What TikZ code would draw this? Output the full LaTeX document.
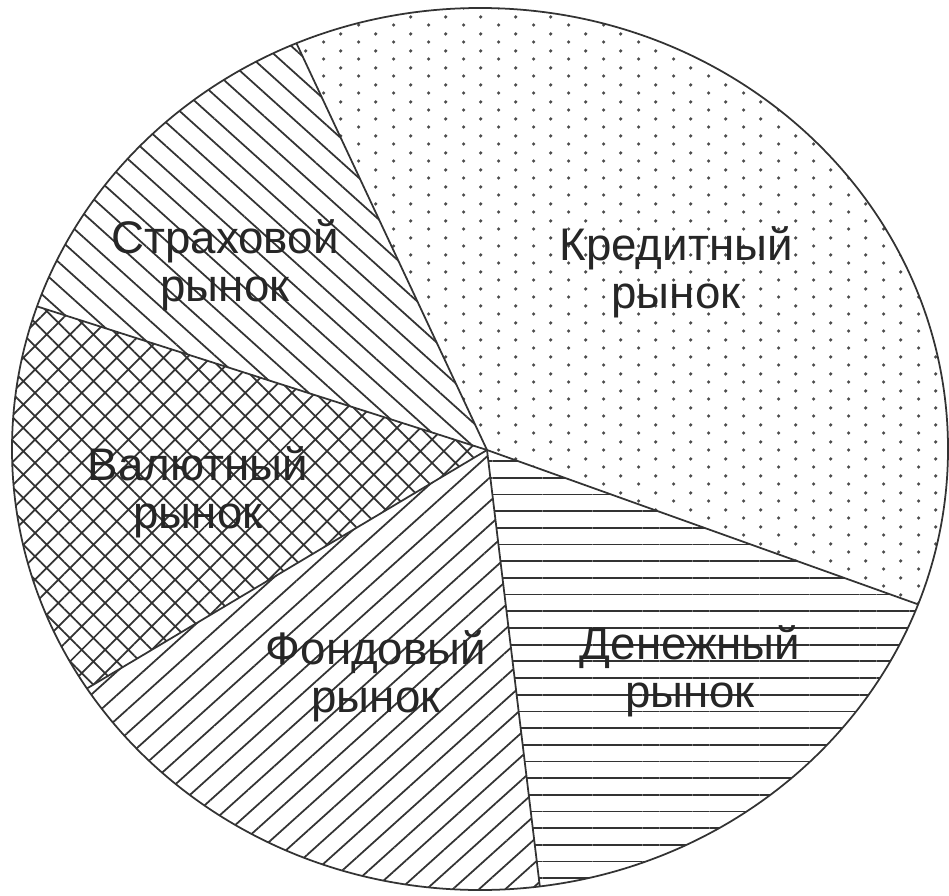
\documentclass[tikz,border=0pt]{standalone}
\usepackage{fontspec}
\setmainfont{Liberation Sans}
\usetikzlibrary{patterns.meta}

% staggered dot grid for the credit market sector
\pgfdeclarepatternformonly{sparse dots}{\pgfpointorigin}{\pgfqpoint{20pt}{9.4pt}}{\pgfqpoint{20pt}{9.4pt}}{%
  \pgfpathcircle{\pgfqpoint{5pt}{2.35pt}}{1.05pt}%
  \pgfpathcircle{\pgfqpoint{15pt}{7.05pt}}{1.05pt}%
  \pgfusepath{fill}}

\begin{document}
\begin{tikzpicture}[x=0.02cm, y=0.02cm,
      lbl/.style={font=\fontsize{26}{27.5}\selectfont, align=center, text=black!85, inner sep=0pt},
      edge/.style={draw=black!80, line width=1pt},
      credit/.style={pattern=sparse dots, pattern color=black!70},
      insure/.style={pattern={Lines[angle=-42, distance=10pt, line width=1pt]}, pattern color=black!80},
      currency/.style={pattern={Hatch[angle=45, distance=9.4pt, line width=1pt]}, pattern color=black!80},
      stock/.style={pattern={Lines[angle=42, distance=10pt, line width=1pt]}, pattern color=black!80},
      money/.style={pattern={Lines[angle=0, distance=9.5pt, line width=1pt]}, pattern color=black!80}]

    \useasboundingbox (0,0) rectangle (949,-895);
    \coordinate (ctr) at (487,-450);
    \coordinate (mid) at (480,-449);

    \begin{scope}
      \clip (mid) ellipse [x radius=468, y radius=441];
      \fill[credit] (ctr) -- ++(-19.7:1200) arc[start angle=-19.7, end angle=115.1, radius=1200] -- cycle;
      \fill[insure] (ctr) -- ++(115.1:1200) arc[start angle=115.1, end angle=162.3, radius=1200] -- cycle;
      \fill[currency] (ctr) -- ++(162.3:1200) arc[start angle=162.3, end angle=210.8, radius=1200] -- cycle;
      \fill[stock] (ctr) -- ++(210.8:1200) arc[start angle=210.8, end angle=276.9, radius=1200] -- cycle;
      \fill[money] (ctr) -- ++(276.9:1200) arc[start angle=276.9, end angle=340.3, radius=1200] -- cycle;
      \foreach \a in {-19.7, 115.1, 162.3, 210.8, 276.9}
        \draw[edge] (ctr) -- ++(\a:1200);
    \end{scope}
    \draw[edge] (mid) ellipse [x radius=468, y radius=441];

    \node[lbl] (credit) at (676,-272) {Кредитный\\рынок};
    \node[lbl] (insure) at (225,-265) {Страховой\\рынок};
    \node[lbl] (currency) at (198,-492) {Валютный\\рынок};
    \node[lbl] (stock) at (376,-676) {Фондовый\\рынок};
    \node[lbl] (money) at (690,-671) {Денежный\\рынок};
  \end{tikzpicture}
\end{document}
